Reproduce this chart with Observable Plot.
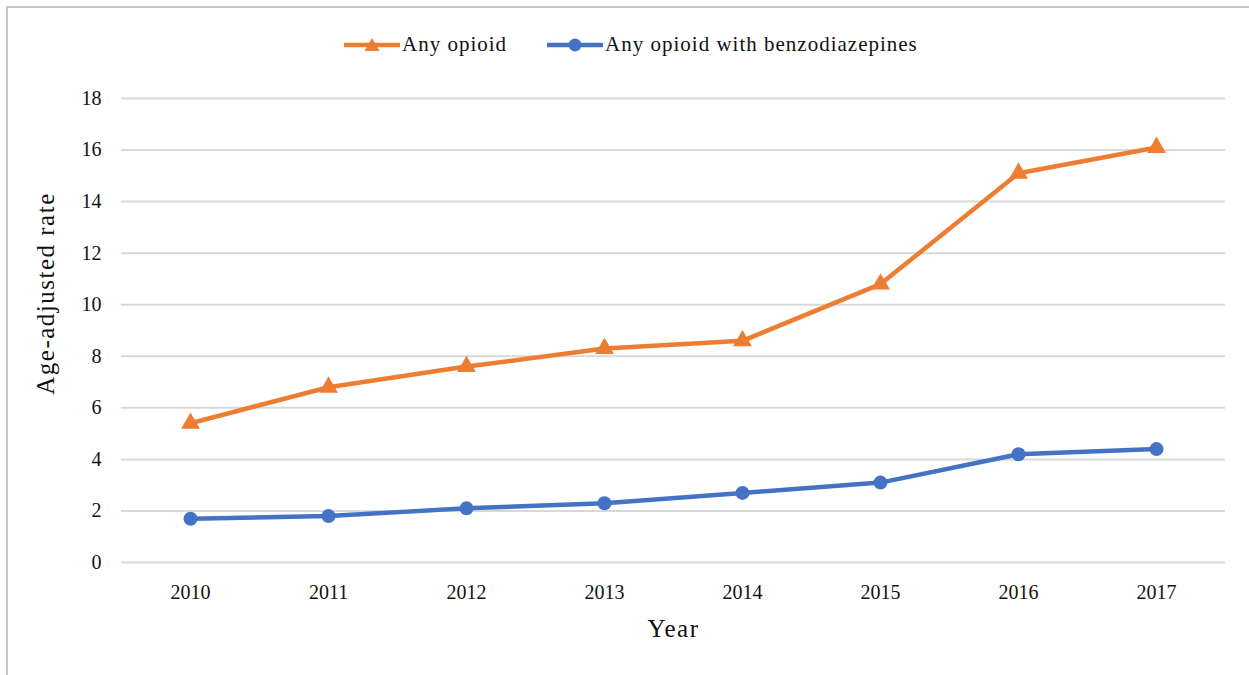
<!DOCTYPE html>
<html>
<head>
<meta charset="utf-8">
<script src="https://cdn.jsdelivr.net/npm/d3@7"></script>
<script src="https://cdn.jsdelivr.net/npm/@observablehq/plot@0.6"></script>
<style>
  html, body { margin: 0; padding: 0; background: #fff; }
  #wrap { position: relative; width: 1249px; height: 675px; overflow: hidden; font-family: "Liberation Serif", "Times New Roman", serif; }
  #frame { position: absolute; left: 6px; top: 6px; width: 1260px; height: 700px; border-left: 2px solid #c6c6c6; border-top: 2px solid #c6c6c6; box-sizing: border-box; pointer-events: none; }
  #chart { position: absolute; left: 0; top: 0; }
  #legend { position: absolute; left: 344px; top: 32px; display: flex; align-items: center; font-size: 21px; color: #111; letter-spacing: 1px; }
  #legend .item { display: flex; align-items: center; margin-right: 40px; }
  #legend svg { display: block; margin-right: 2px; }
  #chart g[aria-label="text"] text, #chart g[aria-label="x-axis label"] text { letter-spacing: 1.5px; }
</style>
</head>
<body>
<div id="wrap">
  <div id="chart"></div>
  <div id="legend"></div>
  <div id="frame"></div>
</div>
<script>
const years = ["2010", "2011", "2012", "2013", "2014", "2015", "2016", "2017"];
const anyOpioid = [5.4, 6.8, 7.6, 8.3, 8.6, 10.8, 15.1, 16.1];
const opioidBenzo = [1.7, 1.8, 2.1, 2.3, 2.7, 3.1, 4.2, 4.4];
const seriesNames = ["Any opioid", "Any opioid with benzodiazepines"];
const seriesColors = ["#ED7D31", "#4472C4"];
const seriesSymbols = ["triangle", "circle"];
const yTicks = [0, 2, 4, 6, 8, 10, 12, 14, 16, 18];
const yTitle = "Age-adjusted rate";
const xTitle = "Year";

const rows = [];
years.forEach((yr, i) => {
  rows.push({year: yr, value: anyOpioid[i], series: seriesNames[0]});
  rows.push({year: yr, value: opioidBenzo[i], series: seriesNames[1]});
});

const font = "'Liberation Serif', 'Times New Roman', serif";

const chart = Plot.plot({
  width: 1249,
  height: 675,
  marginTop: 98,
  marginBottom: 113,
  marginLeft: 121,
  marginRight: 24,
  style: {fontFamily: font, fontSize: "20px", color: "#111", background: "transparent"},
  x: {type: "point", domain: years, padding: 0.5},
  y: {domain: [0, 18]},
  color: {domain: seriesNames, range: seriesColors},
  symbol: {domain: seriesNames, range: seriesSymbols},
  marks: [
    Plot.gridY(yTicks, {stroke: "#d9d9d9", strokeOpacity: 1, strokeWidth: 2}),
    Plot.axisY(yTicks, {tickSize: 0, tickPadding: 20, label: null, fontSize: 20}),
    Plot.axisX({tickSize: 0, tickPadding: 22, label: xTitle, labelAnchor: "center", labelArrow: "none", labelOffset: 74, fontSize: 20}),
    Plot.text([yTitle], {frameAnchor: "left", textAnchor: "middle", rotate: -90, dx: -76, dy: -37, fontSize: 25, fill: "#111"}),
    Plot.line(rows, {x: "year", y: "value", z: "series", stroke: "series", strokeWidth: 4.5}),
    Plot.dot(rows, {x: "year", y: "value", fill: "series", symbol: "series", r: 7, stroke: "none"})
  ]
});
chart.querySelectorAll("g[aria-label='x-axis label'] text").forEach(t => t.setAttribute("font-size", "25px"));
document.getElementById("chart").appendChild(chart);

// legend
const legend = document.getElementById("legend");
seriesNames.forEach((name, i) => {
  const item = document.createElement("div");
  item.className = "item";
  const sym = seriesSymbols[i] === "triangle"
    ? `<path d="M28,3 L35.5,16 L20.5,16 Z" fill="${seriesColors[i]}"/>`
    : `<circle cx="28" cy="10" r="6.5" fill="${seriesColors[i]}"/>`;
  item.innerHTML = `<svg width="56" height="20"><line x1="0" y1="10" x2="56" y2="10" stroke="${seriesColors[i]}" stroke-width="4.5"/>${sym}</svg><span>${name}</span>`;
  legend.appendChild(item);
});
</script>
</body>
</html>
